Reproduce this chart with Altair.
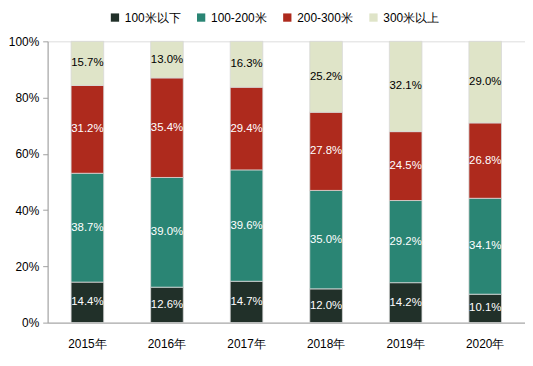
import altair as alt
import pandas as pd

years = ["2015年", "2016年", "2017年", "2018年", "2019年", "2020年"]
categories = ["100米以下", "100-200米", "200-300米", "300米以上"]
colors = ["#213029", "#2A8574", "#AE2A1D", "#DFE4C8"]
text_colors = ["white", "white", "white", "black"]
v_lt100 = [14.4, 12.6, 14.7, 12.0, 14.2, 10.1]
v_100_200 = [38.7, 39.0, 39.6, 35.0, 29.2, 34.1]
v_200_300 = [31.2, 35.4, 29.4, 27.8, 24.5, 26.8]
v_gt300 = [15.7, 13.0, 16.3, 25.2, 32.1, 29.0]

series = [v_lt100, v_100_200, v_200_300, v_gt300]
rows = []
for ci, (cat, vals) in enumerate(zip(categories, series)):
    for y, v in zip(years, vals):
        rows.append({"year": y, "cat": cat, "order": ci, "value": v,
                     "label": f"{v:.1f}%", "tcolor": text_colors[ci]})
df = pd.DataFrame(rows)

FONT = "Liberation Sans"

base = alt.Chart(df).transform_stack(
    stack="value", groupby=["year"], as_=["y0", "y1"],
    sort=[alt.SortField("order", order="ascending")]
).transform_calculate(mid="(datum.y0 + datum.y1) / 2")

x_enc = alt.X("year:N", sort=years, title=None,
              scale=alt.Scale(paddingInner=0.59, paddingOuter=0.295),
              axis=alt.Axis(labelAngle=0, ticks=False, domainColor="#a0a0a0",
                            labelFont=FONT, labelFontSize=12, labelColor="#000",
                            labelPadding=16))

bars = base.mark_bar(stroke="#d8d8d8", strokeWidth=0.8).encode(
    x=x_enc,
    y=alt.Y("y0:Q", scale=alt.Scale(domain=[0, 100]), title=None,
            axis=alt.Axis(values=[0, 20, 40, 60, 80, 100], labelExpr="datum.value + '%'",
                          grid=False, domainColor="#a0a0a0", tickColor="#a0a0a0",
                          tickSize=5, labelFont=FONT, labelFontSize=12,
                          labelColor="#000", labelPadding=4)),
    y2="y1:Q",
    color=alt.Color("cat:N", sort=categories,
                    scale=alt.Scale(domain=categories, range=colors),
                    legend=alt.Legend(title=None, orient="none", direction="horizontal",
                                      legendX=62, legendY=-30, symbolType="square",
                                      symbolSize=70, symbolStrokeWidth=0,
                                      labelFont=FONT, labelFontSize=12, labelColor="#000",
                                      columnPadding=14, labelOffset=4)),
)

texts = base.mark_text(font=FONT, fontSize=11.5).encode(
    x=alt.X("year:N", sort=years),
    y=alt.Y("mid:Q"),
    text="label:N",
    color=alt.Color("tcolor:N", scale=None),
)

chart = alt.layer(bars, texts).properties(width=482, height=284).configure_view(
    stroke=None
).configure(background="white", padding={"left": 0, "top": 2, "right": 0, "bottom": 0})

chart.save("out.html", embed_options={"renderer": "svg", "actions": False})
